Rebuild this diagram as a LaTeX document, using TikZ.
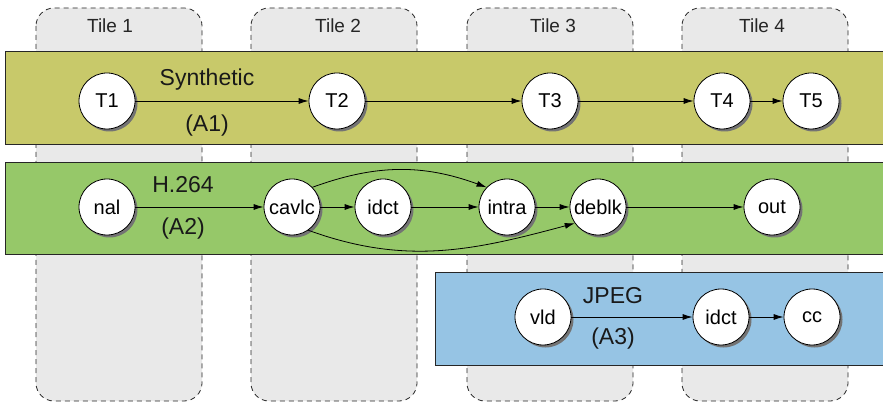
\documentclass[tikz,border=0pt]{standalone}
\usepackage{fontspec}
\setmainfont{Liberation Sans}
\usetikzlibrary{arrows.meta,shadows}

\definecolor{tilegray}{RGB}{233,233,233}
\definecolor{synthband}{RGB}{200,201,106}
\definecolor{h264band}{RGB}{150,200,105}
\definecolor{jpegband}{RGB}{150,196,228}

\begin{document}
\begin{tikzpicture}[x=1pt, y=-1pt,
  tile/.style={draw=black!85, dash pattern=on 5pt off 4pt, fill=tilegray,
    rounded corners=18pt, line width=0.8pt},
  band/.style={draw=black!85, line width=0.8pt},
  tilelabel/.style={font=\fontsize{19}{22}\selectfont, text=black!85},
  applabel/.style={font=\fontsize{23}{26}\selectfont, text=black!90},
  task/.style={circle, draw, fill=white, minimum size=56pt, inner sep=0pt,
    line width=0.8pt, font=\fontsize{20}{24}\selectfont,
    drop shadow={shadow xshift=2.5pt, shadow yshift=-2.5pt, fill=black!55, opacity=1}},
  flow/.style={-{Latex[length=10pt,width=6pt]}, line width=0.8pt}]
  \useasboundingbox (0,0) rectangle (883,403);
  \clip (0,0) rectangle (883,403);

  % tiles
  \foreach \i/\x/\lx in {1/36/110, 2/251/338, 3/467/553, 4/682/762} {
    \draw[tile] (\x,8) rectangle ++(166,393);
    \node[tilelabel] (tile\i) at (\lx,26) {Tile \i};
  }

  % applications
  \draw[band, fill=synthband] (5,51) rectangle (890,144);
  \draw[band, fill=h264band] (5,162) rectangle (890,254);
  \draw[band, fill=jpegband] (435,272) rectangle (890,365);

  \node[applabel] (synth) at (207,80) {Synthetic};
  \node[applabel] (a1) at (207,126) {(A1)};
  \node[applabel] (h264) at (183,185) {H.264};
  \node[applabel] (a2) at (183,229) {(A2)};
  \node[applabel] (jpeg) at (613,296) {JPEG};
  \node[applabel] (a3) at (613,339) {(A3)};

  % A1
  \node[task] (t1) at (107,101) {T1};
  \node[task] (t2) at (337,101) {T2};
  \node[task] (t3) at (550,101) {T3};
  \node[task] (t4) at (722,101) {T4};
  \node[task] (t5) at (811,101) {T5};
  \draw[flow] (t1) -- (t2);
  \draw[flow] (t2) -- (t3);
  \draw[flow] (t3) -- (t4);
  \draw[flow] (t4) -- (t5);

  % A2
  \node[task] (nal) at (107,207) {nal};
  \node[task] (cavlc) at (292,207) {cavlc};
  \node[task] (idct) at (383,207) {idct};
  \node[task] (intra) at (507,207) {intra};
  \node[task] (deblk) at (598,207) {deblk};
  \node[task] (out) at (772,207) {out};
  \draw[flow] (nal) -- (cavlc);
  \draw[flow] (cavlc) -- (idct);
  \draw[flow] (idct) -- (intra);
  \draw[flow] (intra) -- (deblk);
  \draw[flow] (deblk) -- (out);
  \draw[flow] (cavlc.44) to[out=20, in=160] (intra.136);
  \draw[flow] (cavlc.-55) to[out=-20, in=195] (deblk.215);

  % A3
  \node[task] (vld) at (543,317) {vld};
  \node[task] (jidct) at (721,317) {idct};
  \node[task] (cc) at (812,317) {cc};
  \draw[flow] (vld) -- (jidct);
  \draw[flow] (jidct) -- (cc);
\end{tikzpicture}
\end{document}
